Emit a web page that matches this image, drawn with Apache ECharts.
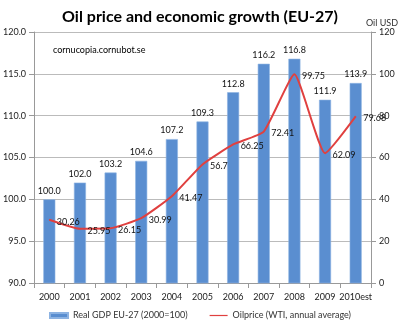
<!DOCTYPE html>
<html><head><meta charset="utf-8">
<script src="https://cdn.jsdelivr.net/npm/echarts@6/dist/echarts.min.js"></script>
<style>html,body{margin:0;padding:0;background:#fff}#c{width:400px;height:326px}</style>
</head><body><div id="c"></div>
<script>
const years = ['2000','2001','2002','2003','2004','2005','2006','2007','2008','2009','2010est'];
const gdp = [100.0,102.0,103.2,104.6,107.2,109.3,112.8,116.2,116.8,111.9,113.9];
const oil = [30.26,25.95,26.15,30.99,41.47,56.7,66.25,72.41,99.75,62.09,79.68];
const leftTicks = [90,95,100,105,110,115,120];
const rightTicks = [0,20,40,60,80,100,120];

const chart = echarts.init(document.getElementById('c'));
const font = 'Lato, "Open Sans", sans-serif';
chart.setOption({
  animation:false,
  textStyle:{fontFamily:font},
  title:{text:'Oil price and economic growth (EU-27)',left:'center',top:4,
    textStyle:{fontFamily:font,fontWeight:'bold',fontSize:16,color:'#000'}},
  graphic:[{type:'text',left:53,top:46,style:{text:'cornucopia.cornubot.se',font:'9px '+font,fill:'#000'}},
    {type:'text',right:2,top:19,style:{text:'Oil USD',font:'9px '+font,fill:'#333'}}],
  legend:{bottom:1,left:'center',itemGap:22,itemWidth:18,itemHeight:5,
    textStyle:{fontSize:9,color:'#333',fontFamily:font},
    data:[{name:'Real GDP EU-27 (2000=100)',icon:'rect'},
          {name:'Oilprice (WTI, annual average)',icon:'path://M0,0L18,0L18,1.2L0,1.2Z'}]},
  grid:{left:33,right:29,top:32,bottom:43},
  xAxis:{type:'category',data:years,boundaryGap:true,
    axisLine:{lineStyle:{color:'#999'}},axisTick:{show:true,lineStyle:{color:'#999'}},
    axisLabel:{color:'#222',fontSize:9,margin:10,interval:0,fontFamily:font}},
  yAxis:[{type:'value',min:90,max:120,interval:5,position:'left',
    axisLine:{show:true,lineStyle:{color:'#999'}},axisTick:{show:true,lineStyle:{color:'#999'}},
    splitLine:{lineStyle:{color:'#bbb'}},
    axisLabel:{color:'#222',fontSize:9,formatter:v=>v.toFixed(1),fontFamily:font}},
   {type:'value',min:0,max:120,interval:20,position:'right',
    axisLine:{show:true,lineStyle:{color:'#999'}},axisTick:{show:true,lineStyle:{color:'#999'}},
    splitLine:{show:false},
    axisLabel:{color:'#222',fontSize:9,fontFamily:font}}],
  series:[{name:'Real GDP EU-27 (2000=100)',type:'bar',data:gdp,barWidth:12,yAxisIndex:0,
    itemStyle:{color:'#5A8ED0',borderColor:'#8DB3E2',borderWidth:0.6},
    label:{show:true,position:'top',fontSize:9,color:'#111',formatter:p=>p.value.toFixed(1),distance:4}},
   {name:'Oilprice (WTI, annual average)',type:'line',data:oil,yAxisIndex:1,smooth:0.15,
    symbol:'circle',symbolSize:1,showSymbol:true,lineStyle:{color:'#E0403F',width:2},itemStyle:{color:'#E0403F'},
    label:{show:true,position:'right',distance:7,fontSize:9,color:'#111',offset:[0,2],formatter:p=>String(p.value)}}]
});
</script></body></html>
